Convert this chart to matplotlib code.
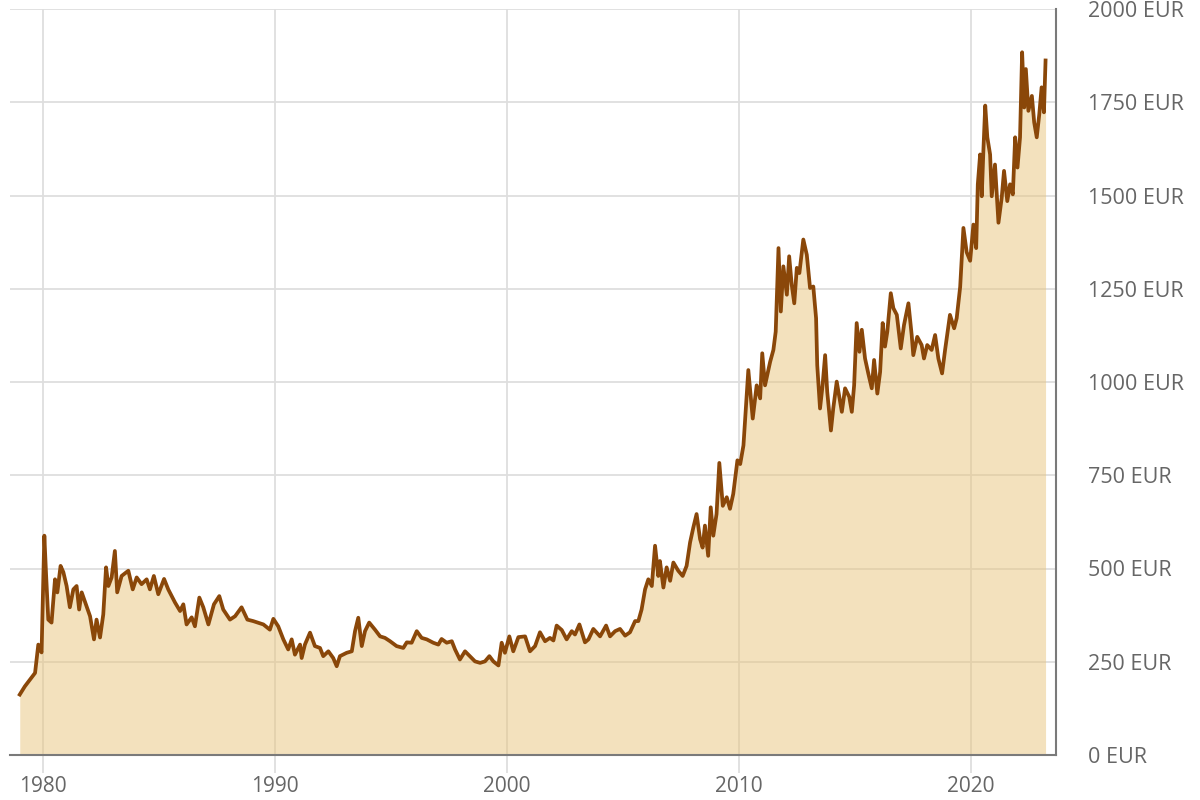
import matplotlib.pyplot as plt

# gold price in EUR
years = [
    1979.00, 1979.22, 1979.44, 1979.66, 1979.80, 1979.94, 1980.06, 1980.13, 1980.23, 1980.37,
    1980.52, 1980.62, 1980.76, 1980.88, 1981.02, 1981.16, 1981.31, 1981.45, 1981.56, 1981.67,
    1981.88, 1982.03, 1982.20, 1982.31, 1982.46, 1982.60, 1982.72, 1982.82, 1982.96, 1983.10,
    1983.20, 1983.39, 1983.68, 1983.87, 1984.04, 1984.25, 1984.47, 1984.61, 1984.78, 1984.97,
    1985.22, 1985.40, 1985.69, 1985.91, 1986.05, 1986.19, 1986.41, 1986.55, 1986.74, 1986.91,
    1987.13, 1987.37, 1987.60, 1987.77, 1988.06, 1988.28, 1988.56, 1988.81, 1989.06, 1989.50,
    1989.78, 1989.93, 1990.14, 1990.36, 1990.57, 1990.72, 1990.86, 1991.08, 1991.15, 1991.29,
    1991.51, 1991.72, 1991.94, 1992.08, 1992.30, 1992.51, 1992.66, 1992.80, 1993.09, 1993.31,
    1993.45, 1993.59, 1993.74, 1993.88, 1994.06, 1994.31, 1994.53, 1994.74, 1994.96, 1995.24,
    1995.53, 1995.68, 1995.89, 1996.11, 1996.32, 1996.54, 1996.82, 1997.04, 1997.18, 1997.40,
    1997.62, 1997.76, 1997.97, 1998.19, 1998.40, 1998.62, 1998.84, 1999.05, 1999.24, 1999.41,
    1999.63, 1999.77, 1999.91, 2000.10, 2000.27, 2000.49, 2000.78, 2000.99, 2001.21, 2001.42,
    2001.64, 2001.85, 2002.00, 2002.14, 2002.36, 2002.57, 2002.79, 2002.93, 2003.12, 2003.36,
    2003.51, 2003.72, 2004.01, 2004.27, 2004.44, 2004.66, 2004.87, 2005.09, 2005.30, 2005.52,
    2005.66, 2005.80, 2005.95, 2006.09, 2006.24, 2006.38, 2006.52, 2006.59, 2006.74, 2006.88,
    2007.03, 2007.17, 2007.38, 2007.57, 2007.74, 2007.89, 2008.03, 2008.17, 2008.32, 2008.43,
    2008.53, 2008.67, 2008.78, 2008.89, 2009.03, 2009.15, 2009.30, 2009.47, 2009.61, 2009.75,
    2009.93, 2010.05, 2010.19, 2010.40, 2010.59, 2010.76, 2010.91, 2011.00, 2011.12, 2011.34,
    2011.48, 2011.58, 2011.70, 2011.80, 2011.91, 2012.06, 2012.16, 2012.27, 2012.38, 2012.49,
    2012.60, 2012.77, 2012.92, 2013.06, 2013.20, 2013.32, 2013.37, 2013.49, 2013.60, 2013.71,
    2013.80, 2013.96, 2014.06, 2014.21, 2014.43, 2014.57, 2014.75, 2014.86, 2014.96, 2015.07,
    2015.19, 2015.29, 2015.43, 2015.57, 2015.72, 2015.82, 2015.96, 2016.08, 2016.19, 2016.29,
    2016.39, 2016.54, 2016.65, 2016.80, 2016.97, 2017.11, 2017.30, 2017.44, 2017.51, 2017.68,
    2017.87, 2017.97, 2018.11, 2018.30, 2018.45, 2018.59, 2018.75, 2018.88, 2019.09, 2019.27,
    2019.38, 2019.53, 2019.67, 2019.81, 2019.96, 2020.10, 2020.22, 2020.29, 2020.39, 2020.46,
    2020.53, 2020.61, 2020.70, 2020.82, 2020.89, 2021.03, 2021.18, 2021.32, 2021.42, 2021.56,
    2021.68, 2021.80, 2021.90, 2022.00, 2022.11, 2022.20, 2022.29, 2022.36, 2022.47, 2022.62,
    2022.72, 2022.83, 2022.94, 2023.04, 2023.14, 2023.21,
]
eur = [
    162, 184, 202, 220, 296, 275, 588, 490, 363, 355,
    471, 436, 507, 490, 453, 396, 444, 453, 390, 436,
    399, 372, 310, 363, 315, 377, 503, 453, 476, 547,
    436, 480, 494, 444, 476, 458, 471, 444, 480, 431,
    472, 444, 409, 386, 404, 350, 369, 345, 422, 396,
    350, 404, 426, 390, 363, 372, 396, 363, 359, 350,
    336, 365, 345, 310, 283, 310, 269, 296, 260, 296,
    328, 292, 287, 265, 278, 260, 238, 265, 274, 278,
    332, 368, 292, 332, 355, 336, 318, 314, 305, 292,
    287, 302, 301, 332, 314, 310, 301, 296, 311, 301,
    305, 283, 256, 278, 265, 251, 247, 251, 265, 251,
    240, 301, 274, 318, 278, 316, 318, 278, 292, 329,
    305, 314, 307, 347, 335, 310, 332, 323, 350, 302,
    310, 338, 318, 347, 318, 332, 338, 320, 329, 359,
    359, 390, 444, 471, 453, 561, 480, 520, 449, 503,
    467, 516, 494, 480, 507, 570, 610, 646, 579, 556,
    615, 534, 664, 588, 646, 783, 668, 691, 660, 700,
    790, 780, 830, 1032, 902, 991, 956, 1077, 991, 1054,
    1086, 1135, 1359, 1189, 1310, 1234, 1337, 1261, 1211, 1306,
    1292, 1382, 1341, 1252, 1256, 1171, 1045, 929, 991, 1072,
    974, 870, 929, 1001, 920, 983, 960, 920, 991, 1158,
    1081, 1140, 1063, 1023, 983, 1059, 969, 1027, 1158, 1095,
    1135, 1238, 1198, 1180, 1090, 1153, 1211, 1126, 1072, 1121,
    1099, 1063, 1099, 1086, 1126, 1063, 1023, 1086, 1180, 1144,
    1171, 1255, 1413, 1348, 1325, 1422, 1359, 1530, 1610, 1498,
    1619, 1741, 1656, 1610, 1498, 1583, 1427, 1494, 1566, 1485,
    1530, 1503, 1656, 1575, 1656, 1884, 1736, 1839, 1727, 1767,
    1696, 1656, 1718, 1790, 1723, 1862,
]

x_ticks = [1980, 1990, 2000, 2010, 2020]
y_ticks = [0, 250, 500, 750, 1000, 1250, 1500, 1750, 2000]

plt.rcParams['font.family'] = ['Open Sans', 'DejaVu Sans']

fig = plt.figure(figsize=(12, 8), dpi=100)
ax = fig.add_axes([10 / 1200, 45 / 800, 1046 / 1200, 746 / 800])

ax.fill_between(years, eur, 0, color='#e8c47c', alpha=0.5, linewidth=0, zorder=2)
ax.plot(years, eur, color='#8a4709', linewidth=2.7, zorder=3)

ax.set_xlim(1978.58, 2023.66)
ax.set_ylim(0, 2000)
ax.set_xticks(x_ticks)
ax.set_yticks(y_ticks)
ax.set_yticklabels([f'{v} EUR' for v in y_ticks])

ax.grid(True, color='#dedede', linewidth=1.3, zorder=1)
ax.set_axisbelow(True)

ax.yaxis.tick_right()
ax.tick_params(axis='y', length=0, pad=23, labelsize=15.5, labelcolor='#666666')
ax.tick_params(axis='x', length=13, width=1.3, color='#dedede', pad=2,
               labelsize=15, labelcolor='#666666')

for side in ['top', 'left']:
    ax.spines[side].set_visible(False)
for side in ['bottom', 'right']:
    ax.spines[side].set_color('#7a7a7a')
    ax.spines[side].set_linewidth(1.5)

plt.savefig('out.png', dpi=100)
plt.close()
